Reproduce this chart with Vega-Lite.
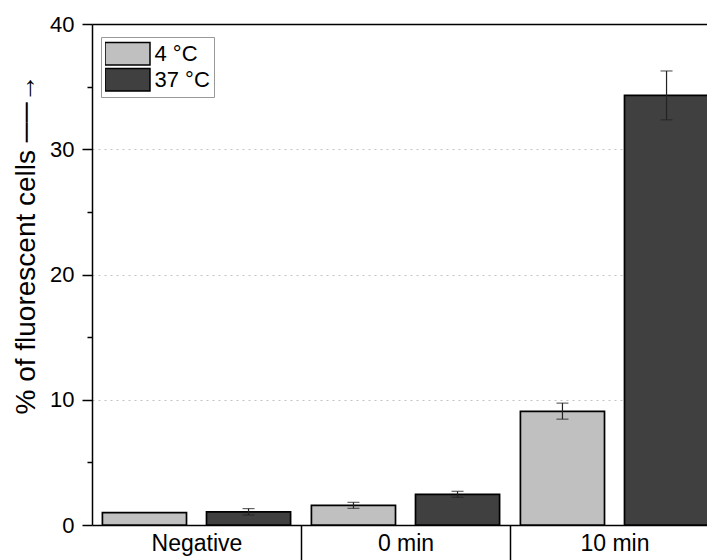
{
  "$schema": "https://vega.github.io/schema/vega-lite/v6.json",
  "autosize": {"type": "none"},
  "width": 615,
  "height": 501,
  "padding": {"left": 92, "top": 24, "right": 0, "bottom": 35},
  "background": "white",
  "data": {
    "values": [
      {"group": "Negative", "temp": "4 °C", "value": 0.99, "lo": null, "hi": null},
      {"group": "Negative", "temp": "37 °C", "value": 1.05, "lo": 0.8, "hi": 1.31},
      {"group": "0 min", "temp": "4 °C", "value": 1.57, "lo": 1.33, "hi": 1.81},
      {"group": "0 min", "temp": "37 °C", "value": 2.45, "lo": 2.21, "hi": 2.69},
      {"group": "10 min", "temp": "4 °C", "value": 9.07, "lo": 8.45, "hi": 9.73},
      {"group": "10 min", "temp": "37 °C", "value": 34.3, "lo": 32.35, "hi": 36.25}
    ]
  },
  "encoding": {
    "x": {
      "field": "group",
      "type": "nominal",
      "sort": ["Negative", "0 min", "10 min"],
      "scale": {"domain": ["Negative", "0 min", "10 min"], "range": [0, 627], "paddingInner": 0, "paddingOuter": 0}
    },
    "xOffset": {
      "field": "temp",
      "type": "nominal",
      "scale": {"domain": ["4 °C", "37 °C"], "paddingInner": 0.192, "paddingOuter": 0.1}
    }
  },
  "layer": [
    {
      "mark": {"type": "bar", "stroke": "black", "strokeWidth": 1.7},
      "encoding": {
        "x": {
          "field": "group", "type": "nominal", "sort": ["Negative", "0 min", "10 min"],
          "scale": {"domain": ["Negative", "0 min", "10 min"], "range": [0, 627], "paddingInner": 0, "paddingOuter": 0},
          "axis": {
            "orient": "bottom", "title": null, "labelAngle": 0,
            "domainColor": "black", "domainWidth": 1.5,
            "tickBand": "extent", "tickSize": 35, "tickWidth": 1.5,
            "tickColor": {"condition": {"test": "datum.value === 'Negative' || datum.value === '0 min'", "value": "black"}, "value": "transparent"},
            "labelFontSize": 23, "labelPadding": -28, "labelColor": "black", "grid": false
          }
        },
        "y": {
          "field": "value", "type": "quantitative",
          "title": "% of fluorescent cells ──→",
          "scale": {"domain": [0, 40], "nice": false},
          "axis": {
            "orient": "left",
            "titleFontSize": 28, "titleFontWeight": "normal", "titleColor": "black", "titlePadding": 9,
            "titleY": 220,
            "values": [0, 5, 10, 15, 20, 25, 30, 35, 40],
            "labelExpr": "datum.value % 10 === 0 ? datum.label : ''",
            "labelFontSize": 22, "labelColor": "black", "labelPadding": 8,
            "domainColor": "black", "domainWidth": 1.5,
            "tickColor": "black", "tickWidth": 1.5,
            "tickSize": {"condition": {"test": "datum.value % 10 === 0", "value": 10}, "value": 5},
            "grid": true, "gridColor": "#c4c4c4", "gridDash": [2, 4], "gridWidth": 1.2,
            "gridOpacity": {"condition": {"test": "datum.value % 10 === 0 && datum.value > 0 && datum.value < 40", "value": 1}, "value": 0}
          }
        },
        "color": {
          "field": "temp", "type": "nominal",
          "scale": {"domain": ["4 °C", "37 °C"], "range": ["#c0c0c0", "#404040"]},
          "legend": {
            "title": null, "orient": "none", "legendX": 9, "legendY": 13,
            "symbolType": "M-2,-1H2V1H-2Z", "symbolSize": 506,
            "symbolStrokeColor": "black", "symbolStrokeWidth": 1.5, "symbolOpacity": 1,
            "symbolOffset": 10.5, "labelOffset": 15,
            "labelFontSize": 22, "labelColor": "black",
            "clipHeight": 25.5, "rowPadding": 0,
            "strokeColor": "#999999", "fillColor": "white", "padding": 4
          }
        }
      }
    },
    {
      "mark": {"type": "rule", "color": "#222222", "strokeWidth": 1.2},
      "encoding": {
        "x": {
          "field": "group", "type": "nominal", "sort": ["Negative", "0 min", "10 min"],
          "axis": {"orient": "top", "title": null, "labels": false, "ticks": false, "grid": false, "domainColor": "black", "domainWidth": 1.5}
        },
        "y": {"field": "lo", "type": "quantitative", "title": "% of fluorescent cells ──→"},
        "y2": {"field": "hi"}
      }
    },
    {
      "mark": {"type": "tick", "color": "#222222", "thickness": 1.2, "size": 12},
      "encoding": {
        "x": {"field": "group", "type": "nominal", "sort": ["Negative", "0 min", "10 min"], "axis": null},
        "y": {"field": "lo", "type": "quantitative", "title": "% of fluorescent cells ──→"}
      }
    },
    {
      "mark": {"type": "tick", "color": "#222222", "thickness": 1.2, "size": 12},
      "encoding": {
        "x": {"field": "group", "type": "nominal", "sort": ["Negative", "0 min", "10 min"], "axis": null},
        "y": {"field": "hi", "type": "quantitative", "title": "% of fluorescent cells ──→"}
      }
    }
  ],
  "resolve": {"axis": {"x": "independent"}},
  "config": {
    "font": "Liberation Sans",
    "view": {"stroke": null},
    "axis": {"labelFont": "Liberation Sans", "titleFont": "Liberation Sans"},
    "legend": {"labelFont": "Liberation Sans"}
  }
}
